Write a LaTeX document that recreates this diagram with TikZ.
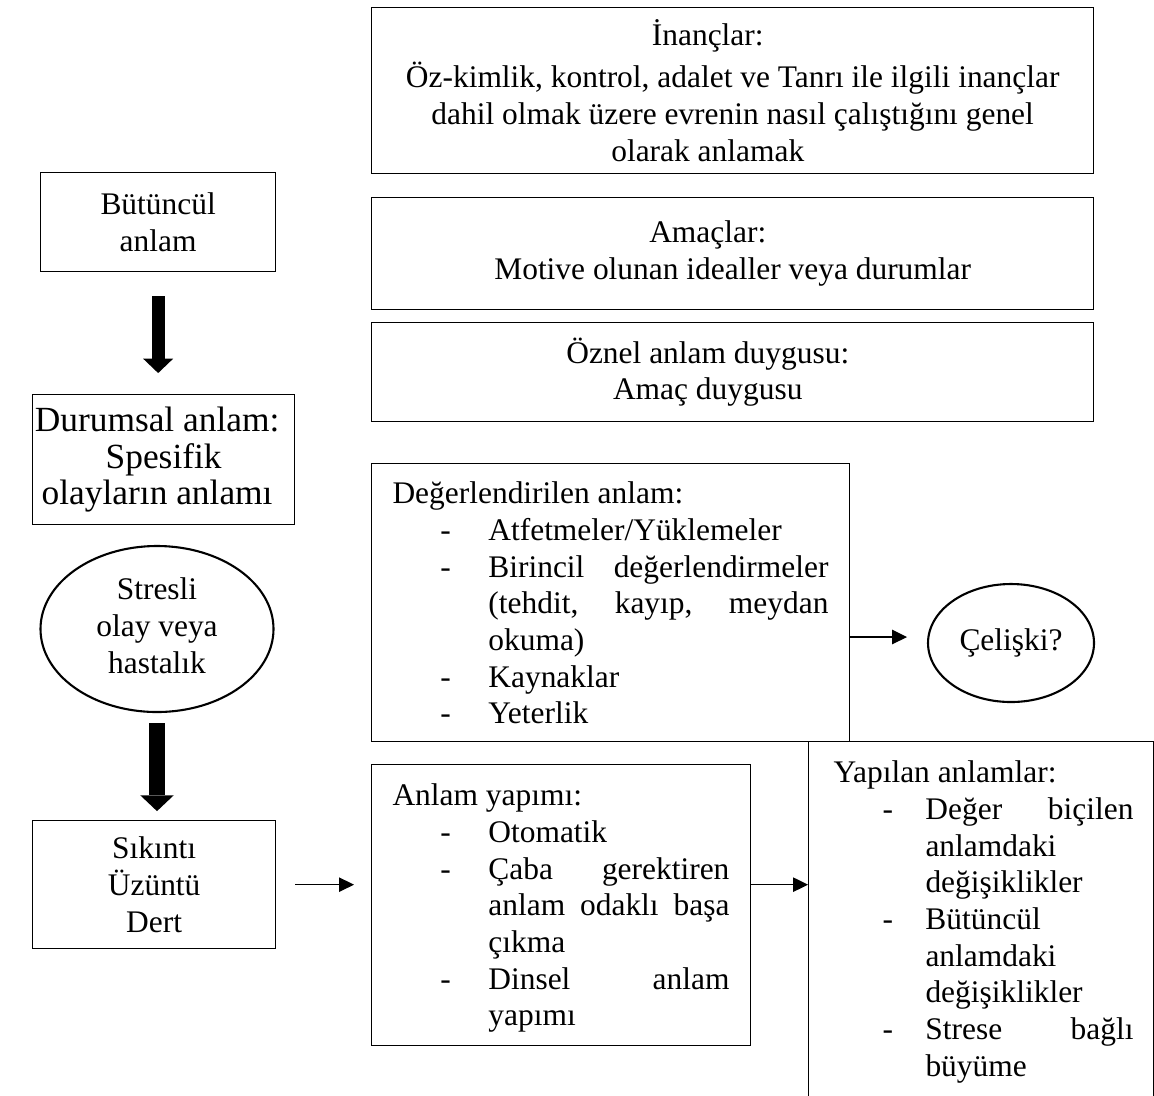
\documentclass[tikz,border=0pt]{standalone}
\usepackage{fontspec}
\setmainfont{Liberation Serif}
\usetikzlibrary{arrows.meta,shapes.geometric}
\newcommand{\Dl}[3]{\hspace*{#1}\makebox[#2][l]{-}#3}
\newcommand{\Ci}[2]{\hspace*{#1}#2}
\newcommand{\Jl}[2]{\hbox to #1{#2}}
\begin{document}
\begin{tikzpicture}[x=0.3817pt,y=-0.3817pt,
  every node/.style={font=\fontsize{12}{14}\selectfont},
  bx/.style 2 args={draw, line width=0.5pt, rectangle, inner sep=0pt, anchor=north west,
    minimum width=#1*0.3817pt, minimum height=#2*0.3817pt, align=center},
  ov/.style 2 args={draw, line width=0.8pt, ellipse, inner sep=0pt,
    minimum width=#1*0.3817pt, minimum height=#2*0.3817pt, align=center},
  tx/.style={anchor=north west, inner sep=0pt, align=left},
  tarr/.style={line width=0.5pt, -{Triangle[length=5.7pt,width=5.5pt]}}
]
\useasboundingbox (0,0) rectangle (1154,1095);
\fill[white] (0,0) rectangle (1154,1095);
\clip (0,0) rectangle (1154,1095);

% right column, top
\node[bx={722}{166}] (inan) at (371,7) {İnançlar:\hspace*{19pt}\\[2pt]Öz-kimlik, kontrol, adalet ve Tanrı ile ilgili inançlar\\dahil olmak üzere evrenin nasıl çalıştığını genel\\olarak anlamak\hspace*{19pt}};
\node[bx={722}{112}] (amac) at (371,197) {Amaçlar:\hspace*{19pt}\\Motive olunan idealler veya durumlar};
\node[bx={722}{99}] (oznel) at (371,322) {Öznel anlam duygusu:\hspace*{19pt}\\Amaç duygusu\hspace*{19pt}};

% left column
\node[bx={235}{99}] (butun) at (40,172) {Bütüncül\\anlam};
\node[bx={262}{130}, font=\fontsize{13.5}{13.8}\selectfont] (durum) at (32,394) {Durumsal anlam:\hspace*{5pt}\\Spesifik\hspace*{5pt}\\olayların anlamı\hspace*{5pt}};
\node[ov={233}{166}] (stres) at (157,629) {\raisebox{4pt}{\begin{tabular}{@{}c@{}}Stresli\\olay veya\\hastalık\end{tabular}}};
\node[bx={243}{128}] (sikin) at (32,820) {Sıkıntı\\Üzüntü\\Dert};

% appraised meaning
\node[bx={478}{278}] (deg) at (371,463) {};
\node[tx] (degt) at (392,477) {\rule{0pt}{10pt}Değerlendirilen anlam:\\
\Dl{18.3pt}{18.3pt}{Atfetmeler/Yüklemeler}\\
\Dl{18.3pt}{18.3pt}{\Jl{129.8pt}{Birincil\hfill değerlendirmeler}}\\
\Ci{36.6pt}{\Jl{129.8pt}{(tehdit,\hfill kayıp,\hfill meydan}}\\
\Ci{36.6pt}{okuma)}\\
\Dl{18.3pt}{18.3pt}{Kaynaklar}\\
\Dl{18.3pt}{18.3pt}{Yeterlik}};

\node[ov={166}{118}] (celis) at (1011,643) {Çelişki?};

% meaning making
\node[bx={379}{281}] (anl) at (371,764) {};
\node[tx] (anlt) at (392,779) {\rule{0pt}{10pt}Anlam yapımı:\\
\Dl{18.3pt}{18.3pt}{Otomatik}\\
\Dl{18.3pt}{18.3pt}{\Jl{92pt}{Çaba\hfill gerektiren}}\\
\Ci{36.6pt}{\Jl{92pt}{anlam\hfill odaklı\hfill başa}}\\
\Ci{36.6pt}{çıkma}\\
\Dl{18.3pt}{18.3pt}{\Jl{92pt}{Dinsel\hfill anlam}}\\
\Ci{36.6pt}{yapımı}};

% meanings made
\node[bx={345}{420}] (yap) at (808,741) {};
\node[tx] (yapt) at (833,756) {\rule{0pt}{10pt}Yapılan anlamlar:\\
\Dl{18.7pt}{16.4pt}{\Jl{79.4pt}{Değer\hfill biçilen}}\\
\Ci{35.1pt}{anlamdaki}\\
\Ci{35.1pt}{değişiklikler}\\
\Dl{18.7pt}{16.4pt}{Bütüncül}\\
\Ci{35.1pt}{anlamdaki}\\
\Ci{35.1pt}{değişiklikler}\\
\Dl{18.7pt}{16.4pt}{\Jl{79.4pt}{Strese\hfill bağlı}}\\
\Ci{35.1pt}{büyüme}};

% connectors
\draw[line width=5pt, -{Triangle[length=5.5pt,width=11.5pt,line width=0pt]},
  shorten <=9.2pt, shorten >=8pt] (butun.south) -- (butun.south |- durum.north);
\draw[line width=6.2pt, -{Triangle[length=6pt,width=12.7pt,line width=0pt]},
  shorten <=3.8pt, shorten >=3.4pt] (stres.south) -- (stres.south |- sikin.north);
\draw[tarr, shorten <=7.3pt, shorten >=6.5pt] (sikin.east) -- (sikin.east -| anl.west);
\draw[tarr] (anl.east |- sikin.east) -- (yap.west |- sikin.east);
\coordinate (cs) at (849,637);
\draw[tarr, shorten >=7.6pt] (cs) -- (cs -| celis.west);
\end{tikzpicture}
\end{document}
